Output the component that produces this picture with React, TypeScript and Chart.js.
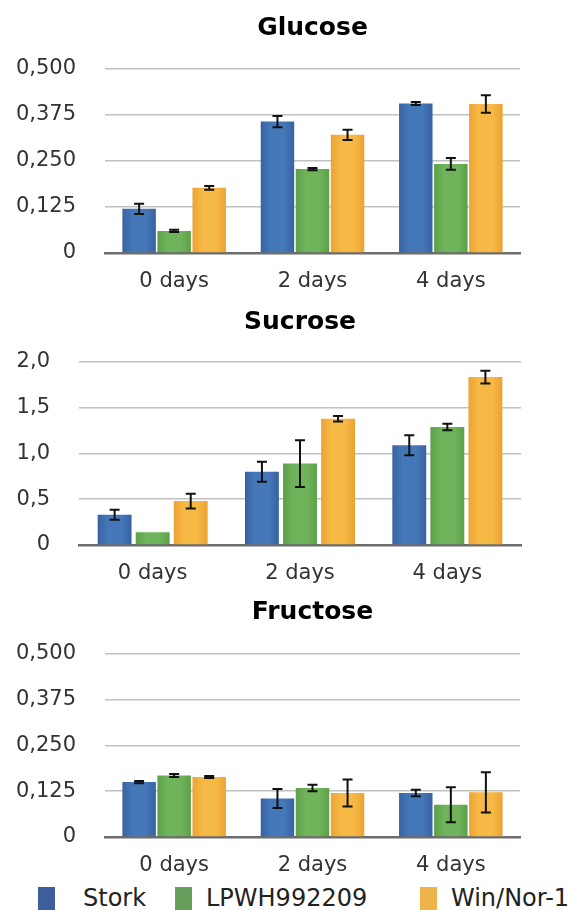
import React, { useEffect, useRef } from 'react';
import { Chart, registerables } from 'chart.js';

Chart.register(...registerables);

// ---------------- data ----------------
const CATEGORIES = ['0 days', '2 days', '4 days'];
const SERIES = ['Stork', 'LPWH992209', 'Win/Nor-1'];

const GLUCOSE_STORK = [0.12, 0.357, 0.406];
const GLUCOSE_LPWH = [0.06, 0.228, 0.242];
const GLUCOSE_WIN = [0.177, 0.321, 0.405];
const GLUCOSE_STORK_ERR = [0.014, 0.015, 0.004];
const GLUCOSE_LPWH_ERR = [0.003, 0.003, 0.016];
const GLUCOSE_WIN_ERR = [0.005, 0.014, 0.024];

const SUCROSE_STORK = [0.33, 0.8, 1.09];
const SUCROSE_LPWH = [0.14, 0.89, 1.29];
const SUCROSE_WIN = [0.48, 1.38, 1.835];
const SUCROSE_STORK_ERR = [0.055, 0.11, 0.11];
const SUCROSE_LPWH_ERR = [0, 0.255, 0.036];
const SUCROSE_WIN_ERR = [0.08, 0.03, 0.07];

const FRUCTOSE_STORK = [0.15, 0.105, 0.12];
const FRUCTOSE_LPWH = [0.168, 0.134, 0.088];
const FRUCTOSE_WIN = [0.164, 0.12, 0.122];
const FRUCTOSE_STORK_ERR = [0.003, 0.026, 0.009];
const FRUCTOSE_LPWH_ERR = [0.004, 0.009, 0.048];
const FRUCTOSE_WIN_ERR = [0.003, 0.037, 0.055];

const GLUCOSE_TICKS = { max: 0.5, step: 0.125, decimals: 3 };
const SUCROSE_TICKS = { max: 2.0, step: 0.5, decimals: 1 };
const FRUCTOSE_TICKS = { max: 0.5, step: 0.125, decimals: 3 };

// ---------------- styles ----------------
const FONT = "'DejaVu Sans', 'Liberation Sans', sans-serif";
const PALETTE = [
  ['#3862a2', '#4478b9'],
  ['#5c9f48', '#6fb45b'],
  ['#eda233', '#f6b946'],
];
const LEGEND_COLORS = ['#3f5f9c', '#67a05a', '#eeb44a'];

const barGradientPlugin = {
  id: 'barGradient',
  beforeDatasetsDraw(chart: any) {
    const ctx = chart.ctx;
    chart.data.datasets.forEach((_ds: any, di: number) => {
      const meta = chart.getDatasetMeta(di);
      const [edge, mid] = PALETTE[di];
      meta.data.forEach((el: any) => {
        const x = el.x;
        const w = el.width;
        if (!isFinite(x) || !isFinite(w)) return;
        const g = ctx.createLinearGradient(x - w / 2, 0, x + w / 2, 0);
        g.addColorStop(0, edge);
        g.addColorStop(0.3, mid);
        g.addColorStop(0.7, mid);
        g.addColorStop(1, edge);
        el.options = Object.assign({}, el.options, { backgroundColor: g });
      });
    });
  },
};

const errorBarPlugin = {
  id: 'errorBars',
  afterDatasetsDraw(chart: any) {
    const ctx = chart.ctx;
    const yScale = chart.scales.y;
    ctx.save();
    ctx.strokeStyle = '#111';
    ctx.lineWidth = 2;
    ctx.lineCap = 'butt';
    chart.data.datasets.forEach((ds: any, di: number) => {
      const meta = chart.getDatasetMeta(di);
      meta.data.forEach((el: any, i: number) => {
        const v = ds.data[i];
        const e = ds.errors[i];
        if (!e) return;
        const top = yScale.getPixelForValue(v + e);
        const bot = yScale.getPixelForValue(v - e);
        const x = el.x;
        const cap = 5;
        ctx.beginPath();
        ctx.moveTo(x, top);
        ctx.lineTo(x, bot);
        ctx.moveTo(x - cap, top);
        ctx.lineTo(x + cap, top);
        ctx.moveTo(x - cap, bot);
        ctx.lineTo(x + cap, bot);
        ctx.stroke();
      });
    });
    ctx.restore();
  },
};

type PanelProps = {
  title: string;
  series: number[][];
  errors: number[][];
  ticks: { max: number; step: number; decimals: number };
  top: number;
  height: number;
  areaLeft: number;
  areaRight: number;
  areaTop: number;
  areaBottom: number;
  titleCenter: number;
  catPct: number;
  barPct: number;
};

function Panel(p: PanelProps) {
  const ref = useRef<HTMLCanvasElement>(null);
  useEffect(() => {
    const canvas = ref.current!;
    const titleLine = 25 * 1.2;
    const padTop = p.titleCenter - titleLine / 2;
    const padBottom = p.areaTop - padTop - titleLine;
    const chart = new Chart(canvas, {
      type: 'bar',
      data: {
        labels: CATEGORIES,
        datasets: SERIES.map((name, i) => ({
          label: name,
          data: p.series[i],
          errors: p.errors[i],
          backgroundColor: PALETTE[i][1],
          borderWidth: 0,
          categoryPercentage: p.catPct,
          barPercentage: p.barPct,
        })) as any,
      },
      options: {
        responsive: false,
        animation: false,
        devicePixelRatio: 1,
        layout: { padding: { left: 0, right: 570 - p.areaRight, top: 0, bottom: 0 } },
        plugins: {
          legend: { display: false },
          tooltip: { enabled: false },
          title: {
            display: true,
            text: p.title,
            fullSize: false,
            color: '#000',
            font: { family: FONT, size: 25, weight: 'bold', lineHeight: 1.2 },
            padding: { top: padTop, bottom: padBottom },
          },
        },
        scales: {
          x: {
            grid: { display: false, drawTicks: false },
            border: { display: true, color: '#6c6c6c', width: 2.5 },
            ticks: {
              color: '#333',
              font: { family: FONT, size: 21 },
              padding: 15.5,
              maxRotation: 0,
              autoSkip: false,
            },
            afterFit: (s: any) => {
              s.height = p.height - p.areaBottom;
            },
          },
          y: {
            min: 0,
            max: p.ticks.max,
            grid: { color: '#c0c0c0', lineWidth: 1.6, drawTicks: false },
            border: { display: false },
            ticks: {
              stepSize: p.ticks.step,
              color: '#333',
              font: { family: FONT, size: 21 },
              padding: 29,
              callback: (v: any) => (Number(v) === 0 ? '0' : Number(v).toFixed(p.ticks.decimals).replace('.', ',')),
            },
            afterFit: (s: any) => {
              s.width = p.areaLeft;
            },
          },
        },
      } as any,
      plugins: [barGradientPlugin, errorBarPlugin],
    });
    return () => chart.destroy();
  }, []);
  return (
    <canvas
      ref={ref}
      width={570}
      height={p.height}
      style={{ position: 'absolute', left: 0, top: p.top, width: 570, height: p.height }}
    />
  );
}

const LEGEND_POS = [
  { box: 38, text: 83 },
  { box: 175, text: 206 },
  { box: 420, text: 451 },
];

export default function App() {
  return (
    <div
      style={{
        position: 'absolute',
        left: 0,
        top: 0,
        width: 570,
        height: 910,
        overflow: 'hidden',
        background: '#fff',
        fontFamily: FONT,
      }}
    >
      <Panel
        title="Glucose"
        series={[GLUCOSE_STORK, GLUCOSE_LPWH, GLUCOSE_WIN]}
        errors={[GLUCOSE_STORK_ERR, GLUCOSE_LPWH_ERR, GLUCOSE_WIN_ERR]}
        ticks={GLUCOSE_TICKS}
        top={0}
        height={300}
        areaLeft={105}
        areaRight={520}
        areaTop={69}
        areaBottom={253}
        titleCenter={28}
        catPct={0.76}
        barPct={0.955}
      />
      <Panel
        title="Sucrose"
        series={[SUCROSE_STORK, SUCROSE_LPWH, SUCROSE_WIN]}
        errors={[SUCROSE_STORK_ERR, SUCROSE_LPWH_ERR, SUCROSE_WIN_ERR]}
        ticks={SUCROSE_TICKS}
        top={300}
        height={290}
        areaLeft={79}
        areaRight={521}
        areaTop={62}
        areaBottom={245}
        titleCenter={22}
        catPct={0.775}
        barPct={0.89}
      />
      <Panel
        title="Fructose"
        series={[FRUCTOSE_STORK, FRUCTOSE_LPWH, FRUCTOSE_WIN]}
        errors={[FRUCTOSE_STORK_ERR, FRUCTOSE_LPWH_ERR, FRUCTOSE_WIN_ERR]}
        ticks={FRUCTOSE_TICKS}
        top={590}
        height={290}
        areaLeft={105}
        areaRight={520}
        areaTop={64}
        areaBottom={247}
        titleCenter={22.5}
        catPct={0.76}
        barPct={0.955}
      />
      {SERIES.map((name, i) => (
        <React.Fragment key={name}>
          <div
            style={{
              position: 'absolute',
              left: LEGEND_POS[i].box,
              top: 887,
              width: 17,
              height: 23,
              background: LEGEND_COLORS[i],
            }}
          />
          <span
            style={{
              position: 'absolute',
              left: LEGEND_POS[i].text,
              top: 886,
              fontSize: 24,
              lineHeight: '24px',
              color: '#222',
              whiteSpace: 'nowrap',
              fontFamily: FONT,
            }}
          >
            {name}
          </span>
        </React.Fragment>
      ))}
    </div>
  );
}
